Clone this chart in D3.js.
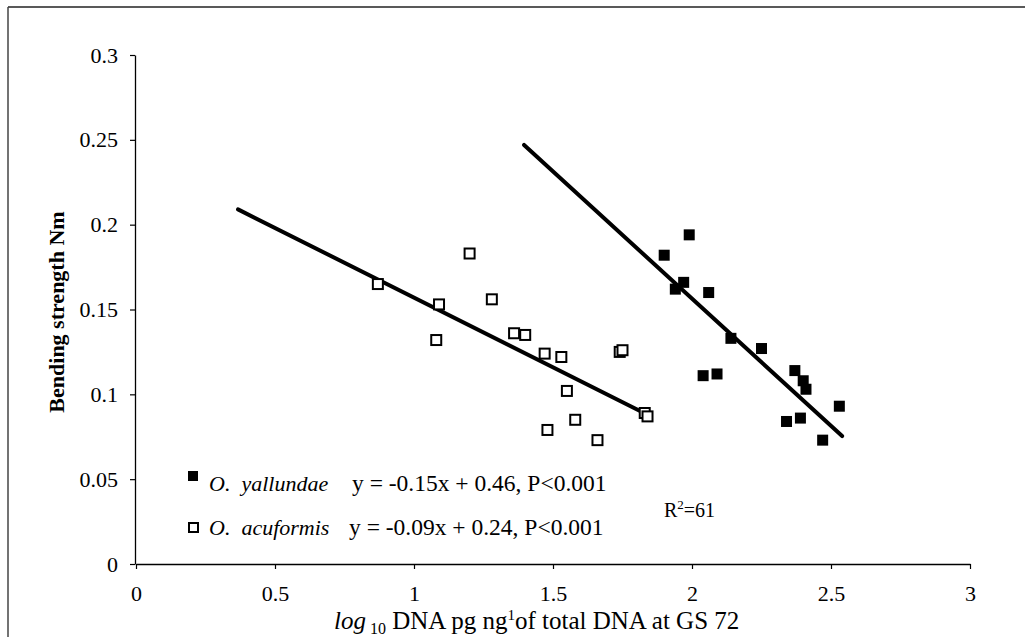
<!DOCTYPE html>
<html>
<head>
<meta charset="utf-8">
<script src="https://cdn.jsdelivr.net/npm/d3@7"></script>
<style>
  body { margin: 0; background: #fff; }
  svg text { font-family: "Liberation Serif", "Times New Roman", serif; fill: #000; }
</style>
</head>
<body>
<div id="chart"></div>
<script>
// values
var yTicks = [0, 0.05, 0.1, 0.15, 0.2, 0.25, 0.3];
var xTicks = [0, 0.5, 1, 1.5, 2, 2.5, 3];

// O. acuformis (open squares)
var acuX = [0.87, 1.09, 1.08, 1.20, 1.28, 1.36, 1.40, 1.47, 1.53, 1.55, 1.58, 1.48, 1.66, 1.74, 1.75, 1.83, 1.84];
var acuY = [0.165, 0.153, 0.132, 0.183, 0.156, 0.136, 0.135, 0.124, 0.122, 0.102, 0.085, 0.079, 0.073, 0.125, 0.126, 0.089, 0.087];

// O. yallundae (filled squares)
var yalX = [1.99, 1.90, 1.97, 1.94, 2.06, 2.14, 2.25, 2.04, 2.09, 2.37, 2.40, 2.41, 2.53, 2.34, 2.39, 2.47];
var yalY = [0.194, 0.182, 0.166, 0.162, 0.160, 0.133, 0.127, 0.111, 0.112, 0.114, 0.108, 0.103, 0.093, 0.084, 0.086, 0.073];

// fitted lines, end points
var yalLineX = [1.396, 2.540], yalLineY = [0.247, 0.0754];
var acuLineX = [0.367, 1.849], acuLineY = [0.209, 0.0872];

var W = 1025, H = 637;
var margin = {top: 55, right: 55, bottom: 73, left: 136};
var serif = "'Liberation Serif', 'Times New Roman', serif";

var svg = d3.select("#chart").append("svg")
  .attr("width", W).attr("height", H);

// frame (only top and left edges are visible in the scan)
svg.append("line").attr("x1", 8).attr("x2", W).attr("y1", 7).attr("y2", 7)
  .attr("stroke", "#222").attr("stroke-width", 1.5);
svg.append("line").attr("x1", 8).attr("x2", 8).attr("y1", 7).attr("y2", H)
  .attr("stroke", "#444").attr("stroke-width", 1.5);

var x = d3.scaleLinear().domain([0, 3]).range([margin.left, W - margin.right]);
var y = d3.scaleLinear().domain([0, 0.3]).range([H - margin.bottom, margin.top]);

// Y axis
svg.append("g")
  .attr("transform", "translate(" + (margin.left - 1) + ",0)")
  .call(d3.axisLeft(y).tickValues(yTicks).tickSize(5).tickSizeOuter(0).tickPadding(12)
    .tickFormat(function(d) { return d3.format("")(+d.toFixed(2)); }))
  .attr("font-family", serif).attr("font-size", 22);

// X axis
svg.append("g")
  .attr("transform", "translate(0," + y(0) + ")")
  .call(d3.axisBottom(x).tickValues(xTicks).tickSize(5).tickSizeOuter(0).tickPadding(16)
    .tickFormat(function(d) { return d3.format("")(d); }))
  .attr("font-family", serif).attr("font-size", 22);

svg.selectAll(".domain").attr("stroke", "#000").attr("stroke-width", 1.3);
svg.selectAll(".tick line").attr("stroke", "#000").attr("stroke-width", 1.2);
svg.selectAll(".tick text").attr("fill", "#000");

// axis titles
svg.append("text")
  .attr("transform", "translate(64,312) rotate(-90)")
  .attr("text-anchor", "middle")
  .attr("font-size", 22)
  .attr("font-weight", "bold")
  .text("Bending strength Nm");

var xl = svg.append("text")
  .attr("x", 334).attr("y", 629)
  .attr("font-size", 25);
xl.append("tspan").attr("font-style", "italic").text("log");
xl.append("tspan").attr("font-size", 16).attr("dy", 5).text(" 10");
xl.append("tspan").attr("dy", -5).text(" DNA pg ng");
xl.append("tspan").attr("font-size", 15).attr("dy", -9).text("1");
xl.append("tspan").attr("dy", 9).text("of total DNA at GS 72");

// regression lines
function drawLine(xs, ys) {
  svg.append("line")
    .attr("x1", x(xs[0])).attr("y1", y(ys[0]))
    .attr("x2", x(xs[1])).attr("y2", y(ys[1]))
    .attr("stroke", "#000").attr("stroke-width", 4)
    .attr("stroke-linecap", "round");
}
drawLine(yalLineX, yalLineY);
drawLine(acuLineX, acuLineY);

// points
var sz = 10;
svg.append("g").selectAll("rect")
  .data(d3.range(acuX.length))
  .enter().append("rect")
  .attr("x", function(i) { return x(acuX[i]) - sz / 2; })
  .attr("y", function(i) { return y(acuY[i]) - sz / 2; })
  .attr("width", sz).attr("height", sz)
  .attr("fill", "#fff").attr("stroke", "#000").attr("stroke-width", 2);

svg.append("g").selectAll("rect")
  .data(d3.range(yalX.length))
  .enter().append("rect")
  .attr("x", function(i) { return x(yalX[i]) - 5.5; })
  .attr("y", function(i) { return y(yalY[i]) - 5.5; })
  .attr("width", 11).attr("height", 11)
  .attr("fill", "#000");

// legend
svg.append("rect").attr("x", 188).attr("y", 471).attr("width", 10).attr("height", 10)
  .attr("fill", "#000");
svg.append("text").attr("x", 209).attr("y", 491).attr("font-size", 22)
  .attr("font-style", "italic").attr("xml:space", "preserve").text("O.  yallundae");
svg.append("text").attr("x", 352).attr("y", 491).attr("font-size", 23.5)
  .text("y = -0.15x + 0.46, P<0.001");

svg.append("rect").attr("x", 189).attr("y", 523).attr("width", 9).attr("height", 9)
  .attr("fill", "#fff").attr("stroke", "#000").attr("stroke-width", 2);
svg.append("text").attr("x", 209).attr("y", 535).attr("font-size", 22)
  .attr("font-style", "italic").attr("xml:space", "preserve").text("O.  acuformis");
svg.append("text").attr("x", 349).attr("y", 535).attr("font-size", 23.5)
  .text("y = -0.09x + 0.24, P<0.001");

// R squared
var r2 = svg.append("text").attr("x", 715).attr("y", 517).attr("font-size", 20)
  .attr("text-anchor", "end");
r2.append("tspan").text("R");
r2.append("tspan").attr("font-size", 13).attr("dy", -8).text("2");
r2.append("tspan").attr("dy", 8).text("=61");
</script>
</body>
</html>
